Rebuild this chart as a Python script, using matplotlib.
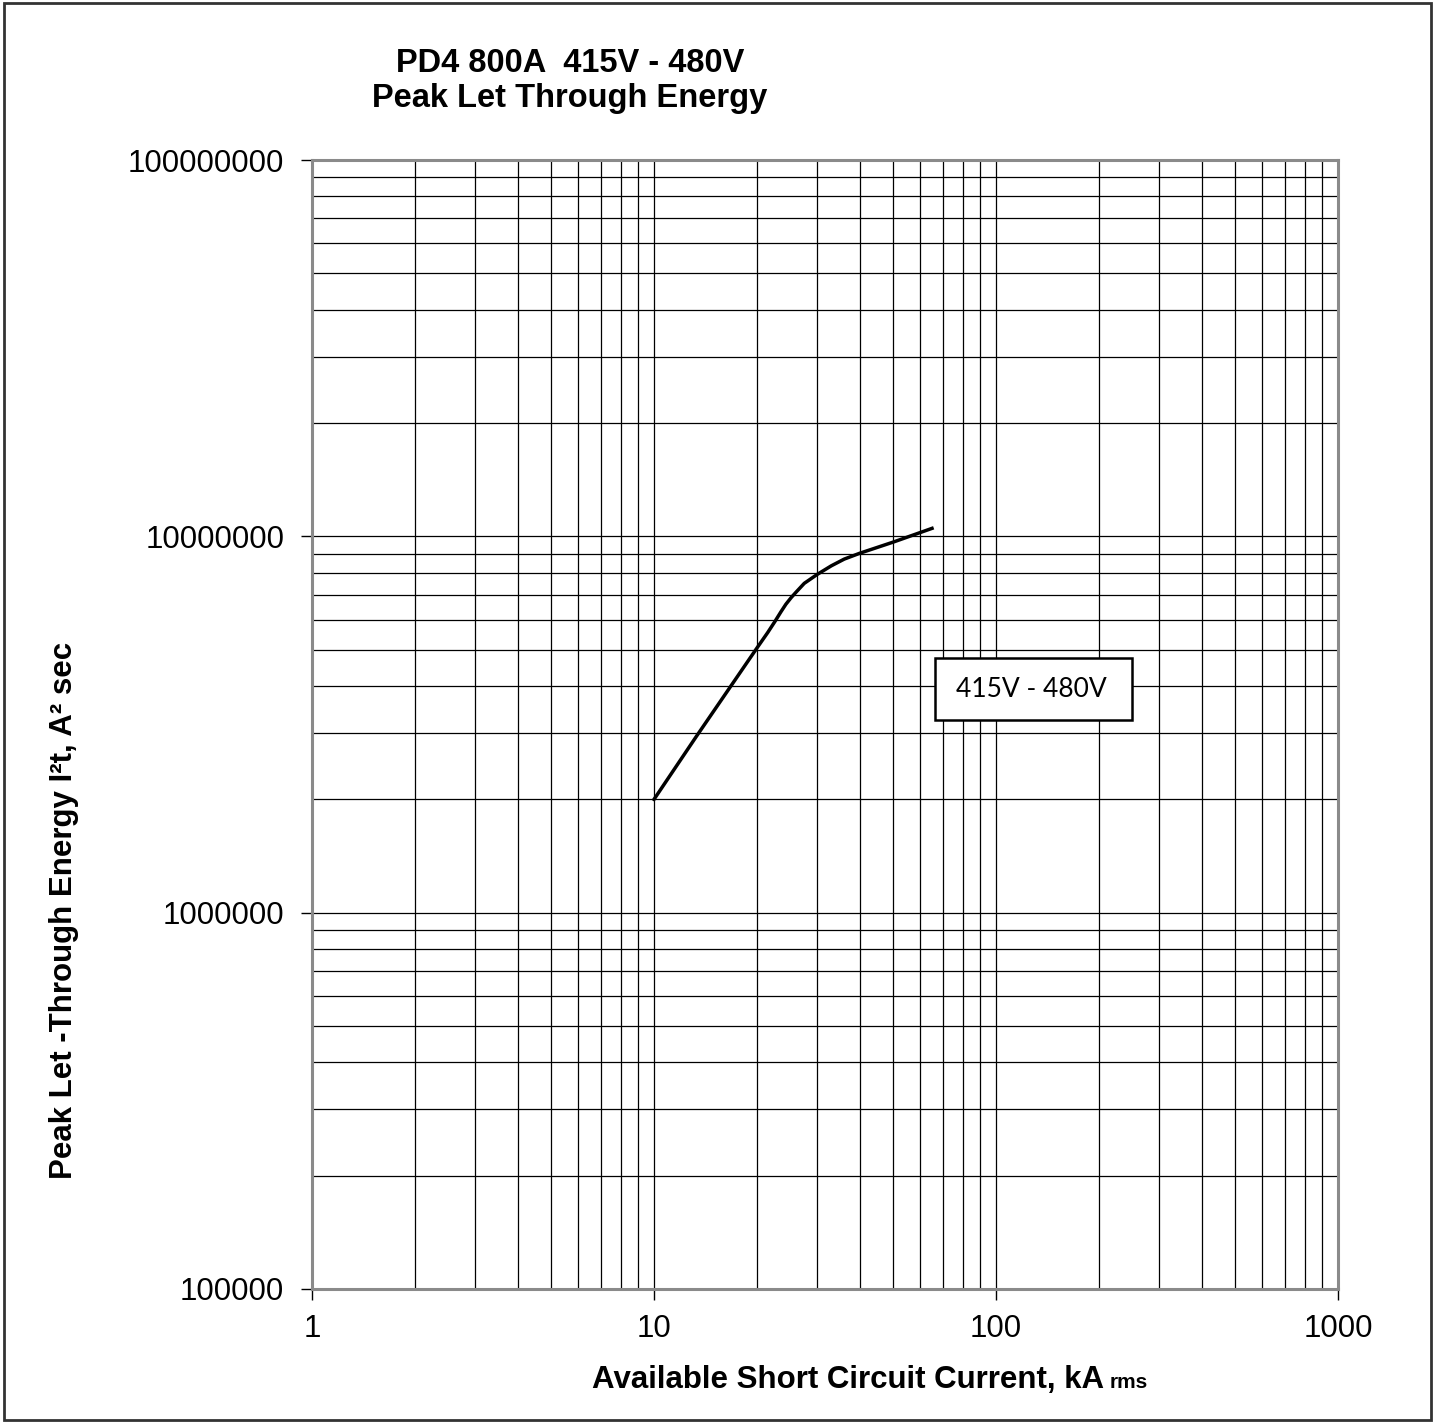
import numpy as np
import matplotlib.pyplot as plt
from matplotlib.patches import Rectangle
from matplotlib.ticker import LogLocator, FuncFormatter, NullFormatter

plt.rcParams['font.family'] = ['Liberation Sans', 'DejaVu Sans']

# let-through energy curve, 415V - 480V
current_ka = [10, 13.3, 20, 21.5, 22.6, 23.5, 24.3, 25.2, 26, 27.5, 30, 33, 36, 40, 50, 65]
energy_a2s = [2.0e6, 2.94e6, 5.05e6, 5.55e6, 5.95e6, 6.3e6, 6.6e6, 6.88e6, 7.1e6,
              7.5e6, 7.92e6, 8.35e6, 8.7e6, 9.02e6, 9.65e6, 1.05e7]

x_ticks = [1, 10, 100, 1000]
y_ticks = [1e5, 1e6, 1e7, 1e8]

fig = plt.figure(figsize=(14.39, 14.22), dpi=100)
ax = fig.add_axes([312 / 1439, 1 - 1289 / 1422, 1026 / 1439, 1129 / 1422])

ax.set_xscale('log')
ax.set_yscale('log')
ax.set_xlim(1, 1000)
ax.set_ylim(1e5, 1e8)

ax.plot(current_ka, energy_a2s, color='black', lw=2.5, solid_joinstyle='round')

ax.set_xticks(x_ticks)
ax.set_yticks(y_ticks)
ax.xaxis.set_minor_locator(LogLocator(base=10, subs=np.arange(2, 10)))
ax.yaxis.set_minor_locator(LogLocator(base=10, subs=np.arange(2, 10)))
ax.xaxis.set_minor_formatter(NullFormatter())
ax.yaxis.set_minor_formatter(NullFormatter())
fmt = FuncFormatter(lambda v, p: '%d' % round(v))
ax.xaxis.set_major_formatter(fmt)
ax.yaxis.set_major_formatter(fmt)

ax.grid(True, which='both', color='black', lw=0.9)
ax.set_axisbelow(True)
ax.tick_params(which='major', direction='out', length=8, width=1, color='black',
               labelsize=22.5, pad=10)
ax.tick_params(which='minor', length=0)
ax.tick_params(axis='y', pad=12)
for s in ax.spines.values():
    s.set_color('#8a8a8a')
    s.set_linewidth(2.2)

# axis titles
fig.text(592 / 1439, 1 - 1388 / 1422, 'Available Short Circuit Current, kA',
         fontsize=22.5, fontweight='bold', ha='left', va='baseline')
fig.text(1110 / 1439, 1 - 1388 / 1422, 'rms', fontsize=15, fontweight='bold',
         ha='left', va='baseline')
fig.text(64 / 1439, 1 - 910 / 1422, 'Peak Let -Through Energy I²t, A² sec',
         fontsize=22.5, fontweight='bold', rotation=90, ha='center', va='center')

fig.text(570 / 1439, 1 - 81 / 1422, 'PD4 800A  415V - 480V\nPeak Let Through Energy',
         ha='center', va='center', fontsize=23.5, fontweight='bold', linespacing=1.15)

# boxed series label
ax.add_patch(Rectangle((0.607, 0.504), 0.192, 0.0549, transform=ax.transAxes,
                       facecolor='white', edgecolor='black', lw=1.8, zorder=5))
ax.text(0.701, 0.531, '415V - 480V', transform=ax.transAxes, ha='center', va='center',
        fontsize=19, family=['Lato', 'DejaVu Sans'], zorder=6)

# outer frame
fig.add_artist(Rectangle((4 / 1439, 2 / 1422), 1427 / 1439, 1417 / 1422,
                         transform=fig.transFigure, fill=False, edgecolor='#333333', lw=2))

fig.savefig('out.png', dpi=100)
